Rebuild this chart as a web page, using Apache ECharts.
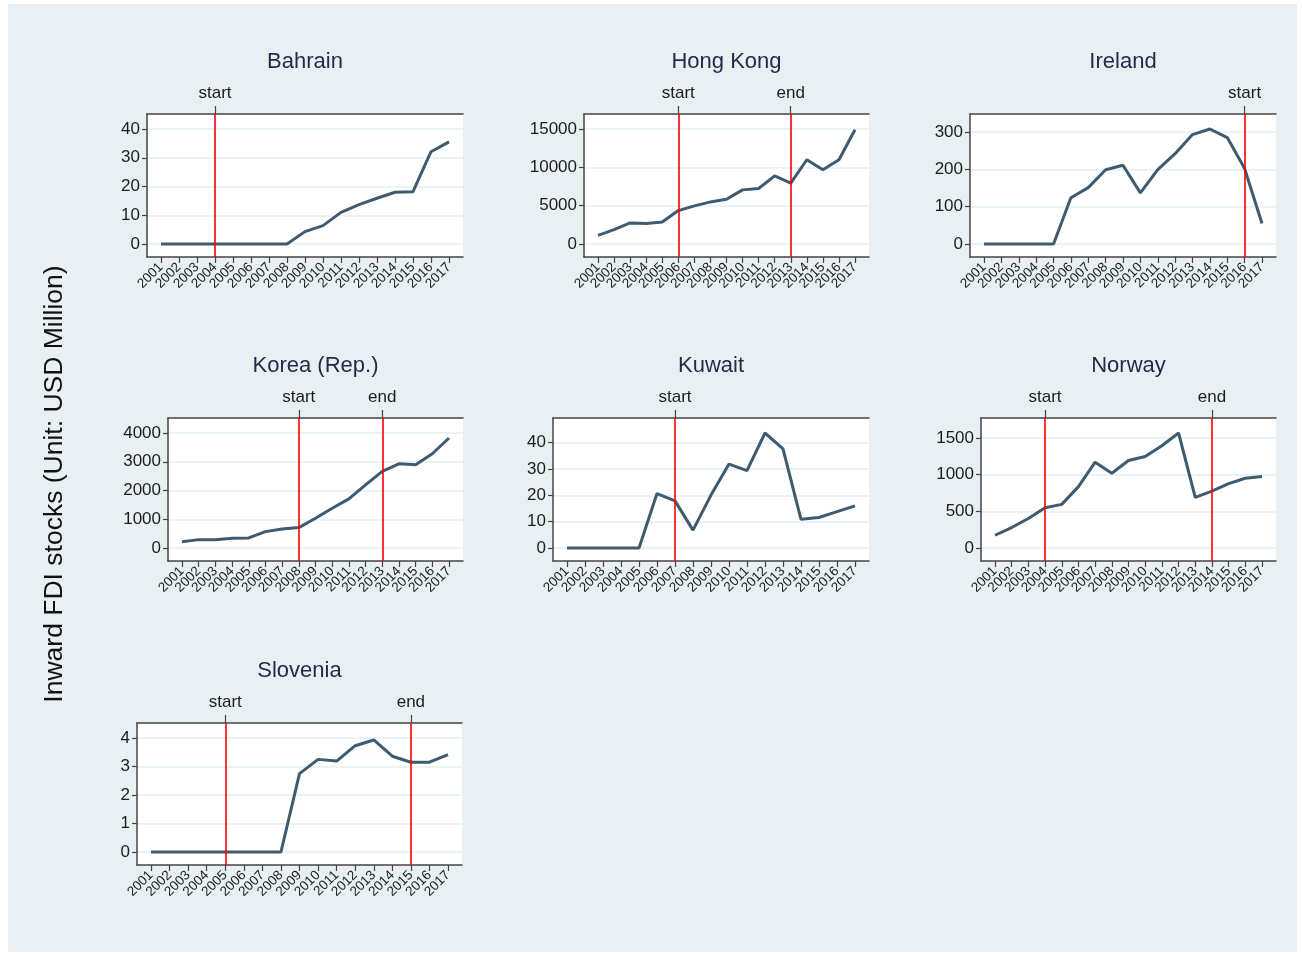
<!DOCTYPE html>
<html>
<head>
<meta charset="utf-8">
<style>
  html, body { margin: 0; padding: 0; background: #ffffff; }
  #frame { position: absolute; left: 8px; top: 4px; width: 1289px; height: 948px; background: #e8f0f3; }
  #chart { position: absolute; left: 0; top: 0; width: 1302px; height: 955px; }
</style>
<script src="https://cdn.jsdelivr.net/npm/echarts@6/dist/echarts.min.js"></script>
</head>
<body>
<div id="frame"></div>
<div id="chart"></div>
<script>
// Years on the horizontal axis
const years = [2001, 2002, 2003, 2004, 2005, 2006, 2007, 2008, 2009,
               2010, 2011, 2012, 2013, 2014, 2015, 2016, 2017];

// Inward FDI stocks by economy (USD million)
const bahrain  = [0, 0, 0, 0, 0, 0, 0, 0, 4.3, 6.4, 11.0, 13.7, 15.9, 18.0, 18.2, 32.1, 35.5];
const hongKong = [1130, 1870, 2750, 2660, 2880, 4360, 4970, 5490, 5840, 7060, 7240, 8890, 7940, 10990, 9680, 10990, 14910];
const ireland  = [0, 0, 0, 0, 0, 124, 151, 199, 211, 137, 199, 242, 293, 308, 285, 202, 55];
const korea    = [221, 291, 290, 337, 349, 570, 663, 709, 1035, 1384, 1709, 2198, 2663, 2930, 2895, 3279, 3826];
const kuwait   = [0, 0, 0, 0, 0, 20.7, 17.9, 6.8, 20.1, 31.9, 29.4, 43.7, 37.7, 10.9, 11.6, 13.8, 16.0];
const norway   = [174, 279, 402, 549, 595, 837, 1171, 1020, 1194, 1248, 1395, 1569, 691, 777, 878, 951, 974];
const slovenia = [0, 0, 0, 0, 0, 0, 0, 0, 2.75, 3.25, 3.19, 3.73, 3.93, 3.36, 3.15, 3.15, 3.42];

// Y-axis tick labels per panel
const ticksBahrain  = [0, 10, 20, 30, 40];
const ticksHongKong = [0, 5000, 10000, 15000];
const ticksIreland  = [0, 100, 200, 300];
const ticksKorea    = [0, 1000, 2000, 3000, 4000];
const ticksKuwait   = [0, 10, 20, 30, 40];
const ticksNorway   = [0, 500, 1000, 1500];
const ticksSlovenia = [0, 1, 2, 3, 4];

// Marked years: [start, end] (null when absent)
const eventsBahrain  = [2004, null];
const eventsHongKong = [2006, 2013];
const eventsIreland  = [2016, null];
const eventsKorea    = [2008, 2013];
const eventsKuwait   = [2007, null];
const eventsNorway   = [2004, 2014];
const eventsSlovenia = [2005, 2015];

const panels = [
  { name: 'Bahrain',       values: bahrain,  ticks: ticksBahrain,  events: eventsBahrain,  box: [147, 114, 316, 143] },
  { name: 'Hong Kong',     values: hongKong, ticks: ticksHongKong, events: eventsHongKong, box: [584, 114, 285, 143] },
  { name: 'Ireland',       values: ireland,  ticks: ticksIreland,  events: eventsIreland,  box: [970, 114, 306, 143] },
  { name: 'Korea (Rep.)',  values: korea,    ticks: ticksKorea,    events: eventsKorea,    box: [168, 418, 295, 143] },
  { name: 'Kuwait',        values: kuwait,   ticks: ticksKuwait,   events: eventsKuwait,   box: [553, 418, 316, 143] },
  { name: 'Norway',        values: norway,   ticks: ticksNorway,   events: eventsNorway,   box: [981, 418, 295, 143] },
  { name: 'Slovenia',      values: slovenia, ticks: ticksSlovenia, events: eventsSlovenia, box: [137, 723, 325, 142] }
];

const FONT = 'Liberation Sans, Arial, sans-serif';
const AXIS_COLOR = '#444444';
const TEXT_COLOR = '#1c1c1c';
const LINE_COLOR = '#3e5b70';
const GRID_COLOR = '#e6eff3';
const N = panels.length;

const option = {
  animation: false,
  grid: [], xAxis: [], yAxis: [], series: [], graphic: []
};

// year-label strips: a category axis per panel, aligned so each category
// centre falls on the matching year of the plot's value axis
const yearStrips = [];

panels.forEach((p, i) => {
  const [left, top, width, height] = p.box;
  // horizontal padding of 14px either side of the first and last year
  const pxPerYear = (width - 28) / (years.length - 1);
  const pad = 14 / pxPerYear;
  const xMin = years[0] - pad;
  const xMax = years[years.length - 1] + pad;

  // vertical range: data span occupies the plot height less 28px of padding
  const hi = Math.max(Math.max.apply(null, p.values), p.ticks[p.ticks.length - 1]);
  const lo = Math.min(Math.min.apply(null, p.values), p.ticks[0]);
  const unit = (hi - lo) / (height - 28);
  const yMin = lo - 13 * unit;
  const yMax = hi + 15 * unit;

  const marks = p.events.map((y, k) => y === null ? null : { year: y, label: k === 0 ? 'start' : 'end' })
                        .filter(Boolean);
  const markYears = marks.map(m => m.year);

  option.grid.push({
    left: left, top: top, width: width, height: height,
    show: true, backgroundColor: '#ffffff', borderWidth: 0
  });
  yearStrips.push({
    left: left + 14 - pxPerYear / 2, top: top,
    width: pxPerYear * years.length, height: height
  });

  // bottom value axis (line only; years drawn by the strip axis)
  option.xAxis.push({
    type: 'value', gridIndex: i, position: 'bottom', min: xMin, max: xMax,
    axisLine: { show: true, onZero: false, lineStyle: { color: AXIS_COLOR, width: 1.5 } },
    axisTick: { show: false }, axisLabel: { show: false }, splitLine: { show: false }
  });
  // top axis carrying the start / end markers
  option.xAxis.push({
    type: 'value', gridIndex: i, position: 'top', min: xMin, max: xMax,
    axisLine: { show: true, onZero: false, lineStyle: { color: AXIS_COLOR, width: 1.5 } },
    axisTick: { show: true, length: 8, customValues: markYears, lineStyle: { color: AXIS_COLOR, width: 1.2 } },
    axisLabel: { show: true, customValues: markYears, margin: 12, fontSize: 17,
                 showMinLabel: true, showMaxLabel: true, hideOverlap: false,
                 color: TEXT_COLOR, fontFamily: FONT,
                 formatter: v => { const m = marks.find(mm => mm.year === v); return m ? m.label : ''; } },
    splitLine: { show: false }
  });

  option.yAxis.push({
    type: 'value', gridIndex: i, min: yMin, max: yMax,
    axisLine: { show: true, onZero: false, lineStyle: { color: AXIS_COLOR, width: 1.5 } },
    axisTick: { show: true, length: 5, customValues: p.ticks, lineStyle: { color: AXIS_COLOR, width: 1.2 } },
    axisLabel: { show: true, customValues: p.ticks, margin: 7, fontSize: 17,
                 showMinLabel: true, showMaxLabel: true, hideOverlap: false,
                 color: TEXT_COLOR, fontFamily: FONT, formatter: v => String(v) },
    splitLine: { show: true, lineStyle: { color: GRID_COLOR, width: 1.5 } }
  });

  option.series.push({
    type: 'line', name: p.name,
    xAxisIndex: i * 2, yAxisIndex: i,
    data: years.map((y, k) => [y, p.values[k]]),
    showSymbol: false, symbol: 'none',
    lineStyle: { color: LINE_COLOR, width: 3 },
    z: 3,
    markLine: {
      silent: true, symbol: 'none', animation: false,
      label: { show: false },
      lineStyle: { color: '#ff0000', width: 1.6, type: 'solid' },
      data: markYears.map(y => ({ xAxis: y }))
    }
  });

  // panel title centred over the plot
  option.graphic.push({
    type: 'text',
    position: [left + width / 2, top - 52],
    style: { text: p.name, x: 0, y: 0, fontSize: 22, fontFamily: FONT, fill: '#1e2a48',
             align: 'center', verticalAlign: 'middle' }
  });
});

// year tick labels on the strips
yearStrips.forEach((s, i) => {
  option.grid.push({ left: s.left, top: s.top, width: s.width, height: s.height, show: false });
  option.xAxis.push({
    type: 'category', gridIndex: N + i, position: 'bottom', data: years.map(String),
    boundaryGap: true,
    axisLine: { show: false },
    axisTick: { show: true, interval: 0, alignWithLabel: true, length: 6,
                lineStyle: { color: AXIS_COLOR, width: 1.2 } },
    axisLabel: { show: true, interval: 0, rotate: 45, margin: 8, fontSize: 13.5,
                 color: TEXT_COLOR, fontFamily: FONT },
    splitLine: { show: false }
  });
  option.yAxis.push({ type: 'value', gridIndex: N + i, show: false, min: 0, max: 1 });
});

// shared vertical axis title
option.graphic.push({
  type: 'text',
  position: [55, 484],
  rotation: Math.PI / 2,
  style: { text: 'Inward FDI stocks (Unit: USD Million)', x: 0, y: 0, fontSize: 26.5, fontFamily: FONT,
           fill: '#111111', align: 'center', verticalAlign: 'middle' }
});

const chart = echarts.init(document.getElementById('chart'), null, { renderer: 'canvas' });
chart.setOption(option);
</script>
</body>
</html>
